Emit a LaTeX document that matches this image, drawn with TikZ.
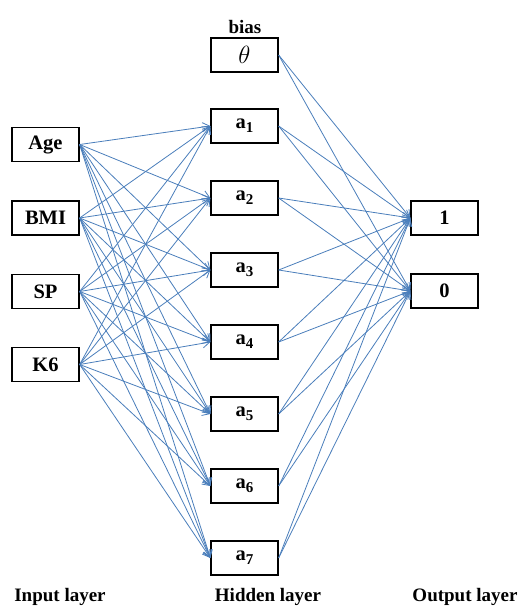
\documentclass[tikz,border=0pt]{standalone}
\usepackage{fontspec}
\setmainfont{Liberation Serif}
\usetikzlibrary{arrows.meta}
\definecolor{linkblue}{RGB}{74,126,187}
\newcommand{\hsub}[1]{\textbf{a}\raisebox{-0.4ex}{\fontsize{15}{15}\selectfont\bfseries #1}}
\tikzset{
  nnbox/.style={draw=black, line width=1.3pt, minimum width=67pt, minimum height=34pt, inner sep=0pt,
    font=\fontsize{20.5}{23}\selectfont\bfseries},
  lbl/.style={inner sep=0pt, font=\fontsize{19}{22}\selectfont\bfseries},
  link/.style={draw=linkblue, line width=0.8pt, -{Straight Barb[length=7pt,width=9pt]}}
}
\begin{document}
\begin{tikzpicture}[x=1pt,y=-1pt]
\useasboundingbox (0,0) rectangle (519,614);
% input layer
\node[nnbox] (age) at (45.5,144.5) {Age};
\node[nnbox] (bmi) at (45.5,218) {BMI};
\node[nnbox] (sp)  at (45.5,291.5) {SP};
\node[nnbox] (k6)  at (45.5,364.5) {K6};
% hidden
\node[lbl] (biaslbl) at (245,27) {bias};
\node[nnbox, font=\fontsize{25}{28}\selectfont] (th) at (244.5,55) {$\theta$};
\foreach \i in {1,...,7} {
  \node[nnbox] (a\i) at (244.5,{126+72*(\i-1)}) {\hsub{\i}};
}
% output
\node[nnbox] (o1) at (444.5,218) {1};
\node[nnbox] (o0) at (444.5,291) {0};
% labels
\node[lbl] (inl) at (60,597) {Input layer};
\node[lbl] (hidl) at (268,597) {Hidden layer};
\node[lbl] (outl) at (465,597) {Output layer};
% connections input -> hidden
\foreach \s in {age,bmi,sp,k6} {
  \foreach \i in {1,...,7} {
    \draw[link] (\s.east) -- (a\i.west);
  }
}
% hidden -> output
\foreach \h in {th,a1,a2,a3,a4,a5,a6,a7} {
  \draw[link] (\h.east) -- (o1.west);
  \draw[link] (\h.east) -- (o0.west);
}
\end{tikzpicture}
\end{document}
